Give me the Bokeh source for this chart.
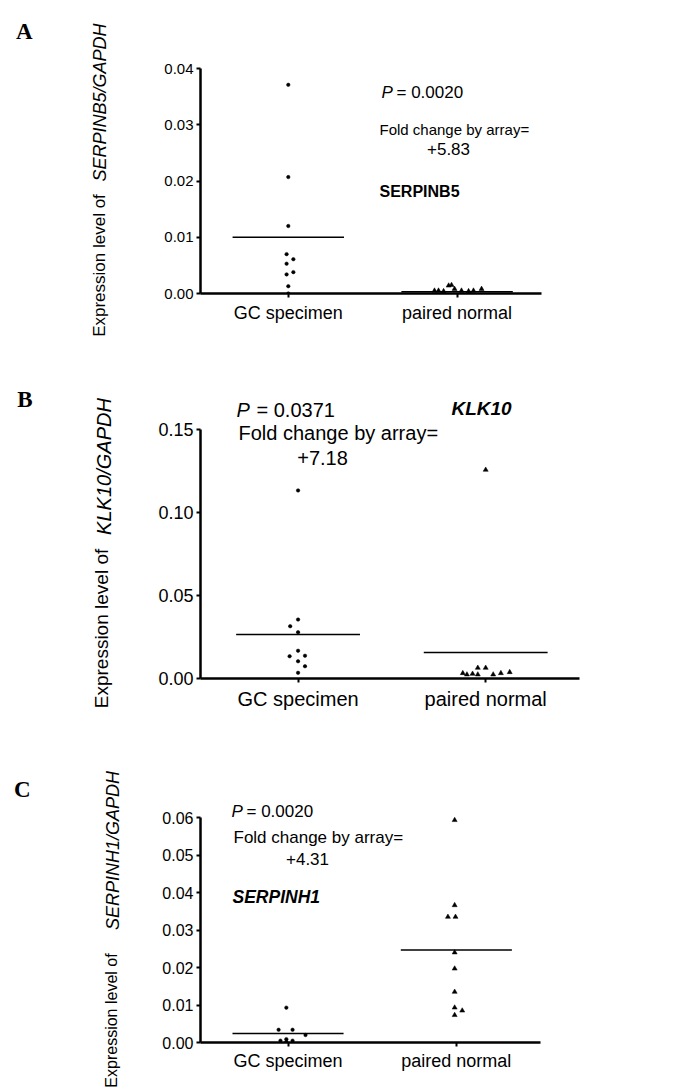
from bokeh.plotting import figure
from bokeh.models import (Range1d, FixedTicker, Label, NumeralTickFormatter,
                          LinearAxis)
from bokeh.layouts import column
from bokeh.embed import file_html
from bokeh.resources import INLINE

# ---------------- data ----------------
categories = ["GC specimen", "paired normal"]
cat_pos = [1, 2]

# Panel A: SERPINB5
A_gc = [0.0371, 0.0207, 0.0120, 0.0070, 0.0061, 0.0053, 0.0038, 0.0034, 0.0013, 0.0000]
A_gc_jit = [0.0, 0.0, 0.0, -0.01, 0.03, -0.01, 0.03, -0.01, 0.0, 0.0]
A_pn = [0.0005, 0.0005, 0.0004, 0.0014, 0.0015, 0.0008, 0.0005, 0.0004, 0.0005, 0.0008]
A_pn_jit = [-0.134, -0.11, -0.08, -0.05, -0.033, -0.015, 0.026, 0.068, 0.097, 0.145]
A_means = [0.0100, 0.0003]
A_yticks = [0.00, 0.01, 0.02, 0.03, 0.04]

# Panel B: KLK10
B_gc = [0.1133, 0.0355, 0.0315, 0.0279, 0.0167, 0.0134, 0.0137, 0.0104, 0.0074, 0.0034]
B_gc_jit = [0.0, 0.0, -0.042, 0.0, 0.0, -0.045, 0.037, 0.0, 0.037, 0.0]
B_pn = [0.1257, 0.0032, 0.0024, 0.0028, 0.0064, 0.0024, 0.0064, 0.0024, 0.0032, 0.0038]
B_pn_jit = [0.0, -0.122, -0.1, -0.07, -0.042, -0.042, 0.0, 0.04, 0.081, 0.128]
B_means = [0.0265, 0.0157]
B_yticks = [0.00, 0.05, 0.10, 0.15]

# Panel C: SERPINH1
C_gc = [0.0093, 0.0034, 0.0034, 0.0020, 0.0009, 0.0005, 0.0005, 0.0002]
C_gc_jit = [-0.01, -0.056, 0.027, 0.104, -0.01, -0.045, 0.027, -0.01]
C_pn = [0.0593, 0.0366, 0.0335, 0.0335, 0.0240, 0.0197, 0.0135, 0.0093, 0.0085, 0.0073]
C_pn_jit = [-0.01, -0.01, -0.05, -0.005, -0.01, -0.01, -0.01, -0.01, 0.035, -0.01]
C_means = [0.0024, 0.0247]
C_yticks = [0.00, 0.01, 0.02, 0.03, 0.04, 0.05, 0.06]

PAGE_W = 680
FONT = "Liberation Sans"
SERIF = "Liberation Serif"
X0, XAXIS_END = 0.48, 2.5


def make_panel(cfg):
    L, R, T, Bm = cfg["L"], cfg["R"], cfg["T"], cfg["Bm"]
    page_top, height = cfg["page_top"], cfg["height"]
    ymax = cfg["yticks"][-1]
    xs = cfg["axis_right"] - L          # px spanned by x-axis (X0..XAXIS_END)
    ys = cfg["axis_top"]                 # page y of ymax
    x_per_px = (XAXIS_END - X0) / xs
    y_per_px = ymax / (Bm - ys)
    x_end = X0 + (R - L) * x_per_px
    y_end = (Bm - T) * y_per_px

    p = figure(frame_width=R - L, frame_height=Bm - T,
               min_border_left=L, min_border_right=PAGE_W - R,
               min_border_top=T - page_top,
               min_border_bottom=page_top + height - Bm,
               x_range=Range1d(X0, x_end), y_range=Range1d(0, y_end),
               output_backend="svg", toolbar_location=None,
               background_fill_color="white", border_fill_color="white")
    # pixel helper ranges for text placement (page coordinates)
    p.extra_x_ranges = {"px": Range1d(L, R)}
    p.extra_y_ranges = {"px": Range1d(-Bm, -T)}
    p.outline_line_color = None
    p.xgrid.visible = False
    p.ygrid.visible = False

    for ax in (p.xaxis[0], p.yaxis[0]):
        ax.axis_line_width = 2.5
        ax.axis_line_color = "black"
        ax.major_tick_line_width = 2
        ax.major_tick_line_color = "black"
        ax.major_tick_in = 0
        ax.major_tick_out = 4
        ax.minor_tick_line_color = None
        ax.major_label_text_font = FONT
        ax.major_label_text_color = "black"
    p.xaxis.bounds = (X0, XAXIS_END)
    p.xaxis.ticker = FixedTicker(ticks=cat_pos)
    p.xaxis.major_label_overrides = {c: n for c, n in zip(cat_pos, categories)}
    p.xaxis.major_label_text_font_size = cfg["xlab_fs"]
    p.xaxis.major_label_standoff = cfg["xlab_standoff"]
    p.yaxis.bounds = (0, ymax)
    p.yaxis.ticker = FixedTicker(ticks=cfg["yticks"])
    p.yaxis.formatter = NumeralTickFormatter(format="0.00")
    p.yaxis.major_label_text_font_size = cfg["ytick_fs"]
    p.yaxis.major_label_standoff = 3

    # text-carrying axes on the left (y-axis title pieces and panel letter)
    def text_axis(py, text, fs, style, font, orient, standoff):
        ax = LinearAxis(y_range_name="px", ticker=FixedTicker(ticks=[-py]),
                        major_label_overrides={-py: text},
                        axis_line_color=None, major_tick_line_color=None,
                        minor_tick_line_color=None, major_tick_in=0, major_tick_out=0,
                        major_label_text_font=font, major_label_text_font_size=fs,
                        major_label_text_font_style=style,
                        major_label_orientation=orient,
                        major_label_standoff=standoff, major_label_text_color="black")
        p.add_layout(ax, "left")

    for item in cfg["side"]:
        text_axis(*item)

    gc, gcj, pn, pnj, means = cfg["gc"], cfg["gc_jit"], cfg["pn"], cfg["pn_jit"], cfg["means"]
    p.scatter([cat_pos[0] + j for j in gcj], gc, marker="circle", size=3.5,
              fill_color="black", line_color="black", line_width=0.5)
    p.scatter([cat_pos[1] + j for j in pnj], pn, marker="triangle", size=5,
              fill_color="black", line_color="black", line_width=0.5)
    p.segment(x0=[c - 0.33 for c in cat_pos], y0=means,
              x1=[c + 0.33 for c in cat_pos], y1=means,
              line_color="black", line_width=1.5)

    for (px, py, text, fs, align, style) in cfg["texts"]:
        p.add_layout(Label(x=px, y=-py, x_range_name="px", y_range_name="px",
                           text=text, text_font=FONT, text_font_size=fs,
                           text_font_style=style, text_align=align,
                           text_baseline="middle", text_color="black"))
    return p


cfgA = dict(page_top=0, height=360, L=199, R=670, T=2, Bm=293,
            axis_right=540, axis_top=68,
            yticks=A_yticks, gc=A_gc, gc_jit=A_gc_jit, pn=A_pn, pn_jit=A_pn_jit,
            means=A_means, xlab_fs="18px", xlab_standoff=5, ytick_fs="15px",
            side=[
                (265, "Expression level of", "17px", "normal", FONT, "parallel", 53),
                (102, "SERPINB5/GAPDH", "18px", "italic", FONT, "parallel", -23),
                (31, "A", "23px", "bold", SERIF, "horizontal", 54),
            ],
            texts=[
                (380, 92, "P", "17px", "left", "italic"),
                (395, 92, "= 0.0020", "17px", "left", "normal"),
                (378, 129, "Fold change by array=", "15px", "left", "normal"),
                (447, 148, "+5.83", "17px", "center", "normal"),
                (378, 191, "SERPINB5", "16px", "left", "bold"),
            ])

cfgB = dict(page_top=360, height=360, L=199, R=670, T=362, Bm=678,
            axis_right=578, axis_top=429,
            yticks=B_yticks, gc=B_gc, gc_jit=B_gc_jit, pn=B_pn, pn_jit=B_pn_jit,
            means=B_means, xlab_fs="20px", xlab_standoff=5, ytick_fs="18px",
            side=[
                (628, "Expression level of", "19px", "normal", FONT, "parallel", 44),
                (466, "KLK10/GAPDH", "20px", "italic", FONT, "parallel", -27),
                (399, "B", "23px", "bold", SERIF, "horizontal", 55),
            ],
            texts=[
                (235, 409, "P", "20px", "left", "italic"),
                (255, 409, "= 0.0371", "20px", "left", "normal"),
                (237, 432, "Fold change by array=", "20px", "left", "normal"),
                (321, 457, "+7.18", "20px", "center", "normal"),
                (450, 408, "KLK10", "19px", "left", "bold italic"),
            ])

cfgC = dict(page_top=720, height=370, L=200, R=670, T=722, Bm=1042,
            axis_right=540, axis_top=817,
            yticks=C_yticks, gc=C_gc, gc_jit=C_gc_jit, pn=C_pn, pn_jit=C_pn_jit,
            means=C_means, xlab_fs="18px", xlab_standoff=4, ytick_fs="16px",
            side=[
                (1020, "Expression level of", "16px", "normal", FONT, "parallel", 40),
                (850, "SERPINH1/GAPDH", "18px", "italic", FONT, "parallel", -23),
                (789, "C", "23px", "bold", SERIF, "horizontal", 69),
            ],
            texts=[
                (231, 811, "P", "17px", "left", "italic"),
                (246, 811, "= 0.0020", "17px", "left", "normal"),
                (233, 837, "Fold change by array=", "17px", "left", "normal"),
                (307, 858, "+4.31", "17px", "center", "normal"),
                (232, 896, "SERPINH1", "17.5px", "left", "bold italic"),
            ])

pA = make_panel(cfgA)
pB = make_panel(cfgB)
pC = make_panel(cfgC)

layout = column(pA, pB, pC, spacing=0)
open("out.html", "w").write(file_html(layout, INLINE))
